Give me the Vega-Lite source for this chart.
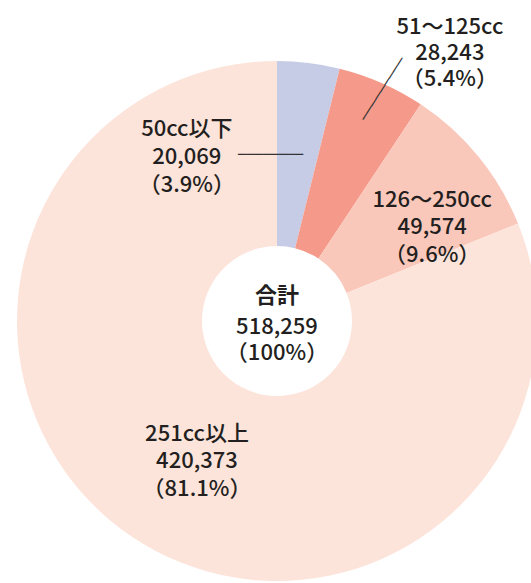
{
  "$schema": "https://vega.github.io/schema/vega-lite/v6.json",
  "width": 508,
  "height": 524,
  "autosize": {"type": "none"},
  "padding": {"left": 23, "top": 59, "right": 0, "bottom": 0},
  "background": "white",
  "config": {"view": {"stroke": null}, "text": {"font": "Noto Sans CJK JP", "color": "#231f20"}},
  "datasets": {
    "share": [
      {"k": 1, "class": "50cc以下", "units": 20069, "label": "50cc以下\n20,069\n（3.9%）"},
      {"k": 2, "class": "51〜125cc", "units": 28243, "label": "51〜125cc\n28,243\n（5.4%）"},
      {"k": 3, "class": "126〜250cc", "units": 49574, "label": "126〜250cc\n49,574\n（9.6%）"},
      {"k": 4, "class": "251cc以上", "units": 420373, "label": "251cc以上\n420,373\n（81.1%）"}
    ],
    "total": [{"title": "合計", "value": "518,259\n（100%）"}]
  },
  "layer": [
    {
      "data": {"name": "share"},
      "mark": {"type": "arc", "radius": 260, "innerRadius": 75},
      "encoding": {
        "theta": {"field": "units", "type": "quantitative", "stack": true},
        "order": {"field": "k", "type": "quantitative"},
        "color": {
          "field": "class",
          "type": "nominal",
          "scale": {
            "domain": ["50cc以下", "51〜125cc", "126〜250cc", "251cc以上"],
            "range": ["#c7cce6", "#f59a8a", "#f9c8bb", "#fde4db"]
          },
          "legend": null
        }
      }
    },
    {
      "data": {"name": "share"},
      "mark": {"type": "text", "radius": 163, "dx": -110, "dy": -30, "lineBreak": "\n", "fontSize": 22, "fontWeight": 500, "lineHeight": 28, "align": "center", "baseline": "middle"},
      "encoding": {
        "theta": {"field": "units", "type": "quantitative", "stack": true},
        "order": {"field": "k", "type": "quantitative"},
        "text": {"condition": {"test": "datum.k === 1", "field": "label"}, "value": ""}
      }
    },
    {
      "data": {"name": "share"},
      "mark": {"type": "text", "radius": 300, "dx": 52, "dy": -19, "lineBreak": "\n", "fontSize": 22, "fontWeight": 500, "lineHeight": 26, "align": "center", "baseline": "middle"},
      "encoding": {
        "theta": {"field": "units", "type": "quantitative", "stack": true},
        "order": {"field": "k", "type": "quantitative"},
        "text": {"condition": {"test": "datum.k === 2", "field": "label"}, "value": ""}
      }
    },
    {
      "data": {"name": "share"},
      "mark": {"type": "text", "radius": 181, "dx": 15, "dy": -7, "lineBreak": "\n", "fontSize": 22, "fontWeight": 500, "lineHeight": 27.5, "align": "center", "baseline": "middle"},
      "encoding": {
        "theta": {"field": "units", "type": "quantitative", "stack": true},
        "order": {"field": "k", "type": "quantitative"},
        "text": {"condition": {"test": "datum.k === 3", "field": "label"}, "value": ""}
      }
    },
    {
      "data": {"name": "share"},
      "mark": {"type": "text", "radius": 161, "dx": 10, "dy": -20.5, "lineBreak": "\n", "fontSize": 22, "fontWeight": 500, "lineHeight": 27.5, "align": "center", "baseline": "middle"},
      "encoding": {
        "theta": {"field": "units", "type": "quantitative", "stack": true},
        "order": {"field": "k", "type": "quantitative"},
        "text": {"condition": {"test": "datum.k === 4", "field": "label"}, "value": ""}
      }
    },
    {
      "data": {"name": "share"},
      "mark": {"type": "text", "radius": 166, "dx": -26.6, "dy": -1, "font": "DejaVu Sans Mono", "fontSize": 13.5, "color": "#333333", "align": "center", "baseline": "middle"},
      "encoding": {
        "theta": {"field": "units", "type": "quantitative", "stack": true},
        "order": {"field": "k", "type": "quantitative"},
        "text": {"condition": {"test": "datum.k === 1", "value": "────────"}, "value": ""}
      }
    },
    {
      "data": {"name": "share"},
      "mark": {"type": "text", "radius": 255, "dx": 0.5, "dy": 3.6, "angle": -57.4, "font": "DejaVu Sans Mono", "fontSize": 13.5, "color": "#333333", "align": "center", "baseline": "middle"},
      "encoding": {
        "theta": {"field": "units", "type": "quantitative", "stack": true},
        "order": {"field": "k", "type": "quantitative"},
        "text": {"condition": {"test": "datum.k === 2", "value": "─────────"}, "value": ""}
      }
    },
    {
      "data": {"name": "total"},
      "mark": {"type": "text", "dy": -25, "fontSize": 22, "fontWeight": "bold", "align": "center", "baseline": "middle"},
      "encoding": {"text": {"field": "title"}}
    },
    {
      "data": {"name": "total"},
      "mark": {"type": "text", "dy": 6, "lineBreak": "\n", "fontSize": 22, "fontWeight": 500, "lineHeight": 26, "align": "center", "baseline": "middle"},
      "encoding": {"text": {"field": "value"}}
    }
  ]
}
